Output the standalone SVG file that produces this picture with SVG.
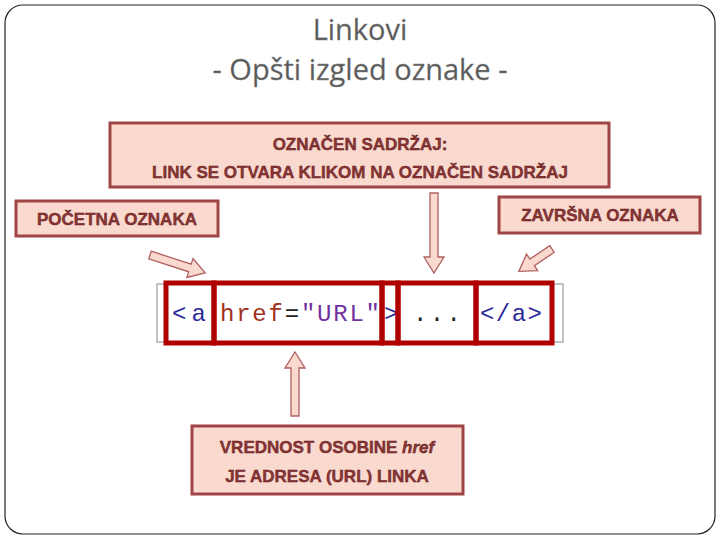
<svg xmlns="http://www.w3.org/2000/svg" width="720" height="540" viewBox="0 0 720 540">
<style>
.t{font-family:"Open Sans","Liberation Sans",sans-serif;fill:#595959;text-anchor:middle;font-size:29px;stroke:#888;stroke-width:0.3}
.box{fill:#fad9cf;stroke:#a04545;stroke-width:3}
.bt{font-family:"Liberation Sans",sans-serif;font-weight:bold;fill:#8a3535;text-anchor:middle;font-size:17px;stroke:#5a1a1a;stroke-width:0.4}
.ar{fill:#fad9cf;stroke:#b06060;stroke-width:1.3}
.rb{fill:none;stroke:#b00000;stroke-width:5}
.code{font-family:"Liberation Mono","DejaVu Sans Mono",monospace;font-size:24px}
</style>
<rect x="5" y="5" width="710" height="529" rx="18" fill="#fff" stroke="#222" stroke-width="1.2"/>
<text class="t" x="360" y="40">Linkovi</text>
<text class="t" x="360" y="80">- Opšti izgled oznake -</text>
<g id="code">
<rect x="157" y="284" width="406" height="58" fill="#fff" stroke="#888"/>
<g class="code">
<text x="172" y="321" fill="#2a2a9a" textLength="34">&lt;a</text>
<text x="220" y="321" textLength="160"><tspan fill="#a03020">href</tspan><tspan fill="#222">=</tspan><tspan fill="#7030a0">"URL"</tspan></text>
<text x="384" y="321" fill="#2a2a9a">&gt;</text>
<text x="413" y="321" fill="#222" textLength="48">...</text>
<text x="480" y="321" fill="#2a2a9a" textLength="62">&lt;/a&gt;</text>
</g>
<rect class="rb" x="166" y="283" width="48" height="60"/>
<rect class="rb" x="214" y="283" width="168" height="60"/>
<rect class="rb" x="382" y="283" width="16" height="60"/>
<rect class="rb" x="398" y="283" width="78" height="60"/>
<rect class="rb" x="476" y="283" width="76" height="60"/>
</g>
<g id="connectors">
<polygon class="ar" transform="translate(150,255) rotate(18)" points="0,-4 42,-4 42,-10 58,0 42,10 42,4 0,4"/>
<polygon class="ar" transform="translate(434,193) rotate(90)" points="0,-4 64,-4 64,-10 80,0 64,10 64,4 0,4"/>
<polygon class="ar" transform="translate(552,249) rotate(146)" points="0,-4 24,-4 24,-10 40,0 24,10 24,4 0,4"/>
<polygon class="ar" transform="translate(295,416) rotate(-90)" points="0,-4 48,-4 48,-10 64,0 48,10 48,4 0,4"/>
</g>
<g id="top"><rect class="box" x="110" y="123" width="499" height="64"/>
<text class="bt" x="360" y="150">OZNAČEN SADRŽAJ:</text>
<text class="bt" x="360" y="178">LINK SE OTVARA KLIKOM NA OZNAČEN SADRŽAJ</text></g>
<g id="start"><rect class="box" x="16" y="201" width="202" height="35"/>
<text class="bt" x="117" y="225">POČETNA OZNAKA</text></g>
<g id="end"><rect class="box" x="499" y="197" width="201" height="36"/>
<text class="bt" x="600" y="221">ZAVRŠNA OZNAKA</text></g>
<g id="href"><rect class="box" x="192" y="426" width="271" height="68"/>
<text class="bt" x="327" y="453">VREDNOST OSOBINE <tspan font-style="italic">href</tspan></text>
<text class="bt" x="327" y="482">JE ADRESA (URL) LINKA</text></g>
</svg>
